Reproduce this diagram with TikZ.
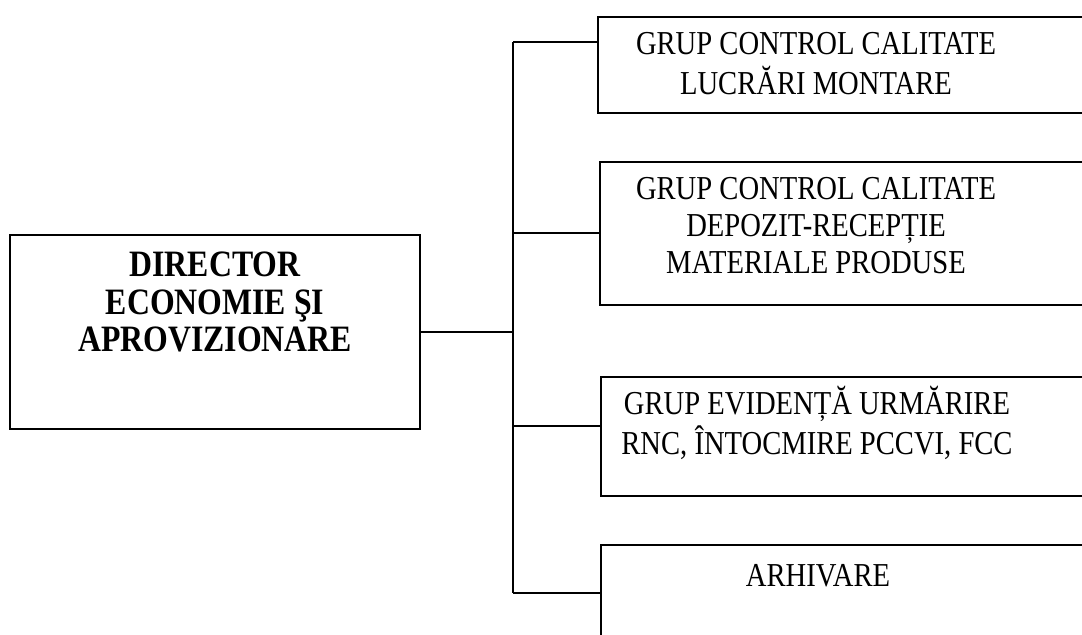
\documentclass[tikz,border=0pt]{standalone}
\usepackage{graphicx}
\usepackage{fontspec}
\setmainfont{Liberation Serif}
\usetikzlibrary{positioning}
% the scan is a little taller than wide
\newcommand{\tallstack}[1]{\scalebox{1}[1.17]{\begin{tabular}{@{}c@{}}#1\end{tabular}}}

\begin{document}
\begin{tikzpicture}[x=0.5pt,y=-0.5pt,
  box/.style={draw, shape=rectangle, line width=0.9pt, inner sep=0pt},
  conn/.style={line width=0.9pt},
  txt/.style={inner sep=0pt, font=\fontsize{14.3}{15.8}\selectfont},
  btxt/.style={inner sep=0pt, font=\bfseries\fontsize{15.9}{16}\selectfont}]
\useasboundingbox (0,0) rectangle (1082,635);
\clip (0,0) rectangle (1082,635);

% director
\node[box, minimum width=205pt, minimum height=97pt] (dir) at (215,332) {};
\node[btxt] (dirtxt) at (215,306.8) {\tallstack{DIRECTOR\\ECONOMIE ŞI\\APROVIZIONARE}};

% groups (boxes run past the right edge)
\node[box, minimum width=256pt, minimum height=48pt] (g1) at (854,65) {};
\node[box, minimum width=255pt, minimum height=71.5pt] (g2) at (855,233.5) {};
\node[box, minimum width=254.5pt, minimum height=59.5pt] (g3) at (855.5,436.5) {};
\node[box, minimum width=254.5pt, minimum height=77.5pt] (g4) at (855.5,622.5) {};

\node[txt] (g1txt) at (816,67.2) {\tallstack{GRUP CONTROL CALITATE\\LUCRĂRI MONTARE}};
\node[txt] (g2txt) at (816,228.7) {\tallstack{GRUP CONTROL CALITATE\\DEPOZIT-RECEPȚIE\\MATERIALE PRODUSE}};
\node[txt] (g3txt) at (817,426) {\tallstack{GRUP EVIDENȚĂ URMĂRIRE\\RNC, ÎNTOCMIRE PCCVI, FCC}};
\node[txt] (g4txt) at (818,578.7) {\tallstack{ARHIVARE}};

% connectors
\coordinate (b1) at (513,42);
\coordinate (b2) at (513,233);
\coordinate (b3) at (513,426);
\coordinate (b4) at (513,593);
\draw[conn] (dir.east) -- (dir.east -| b1);
\draw[conn] (b1) -- (b4);
\foreach \b/\g in {b1/g1,b2/g2,b3/g3,b4/g4}
  \draw[conn] (\b) -- (\b -| \g.west);
\end{tikzpicture}
\end{document}
